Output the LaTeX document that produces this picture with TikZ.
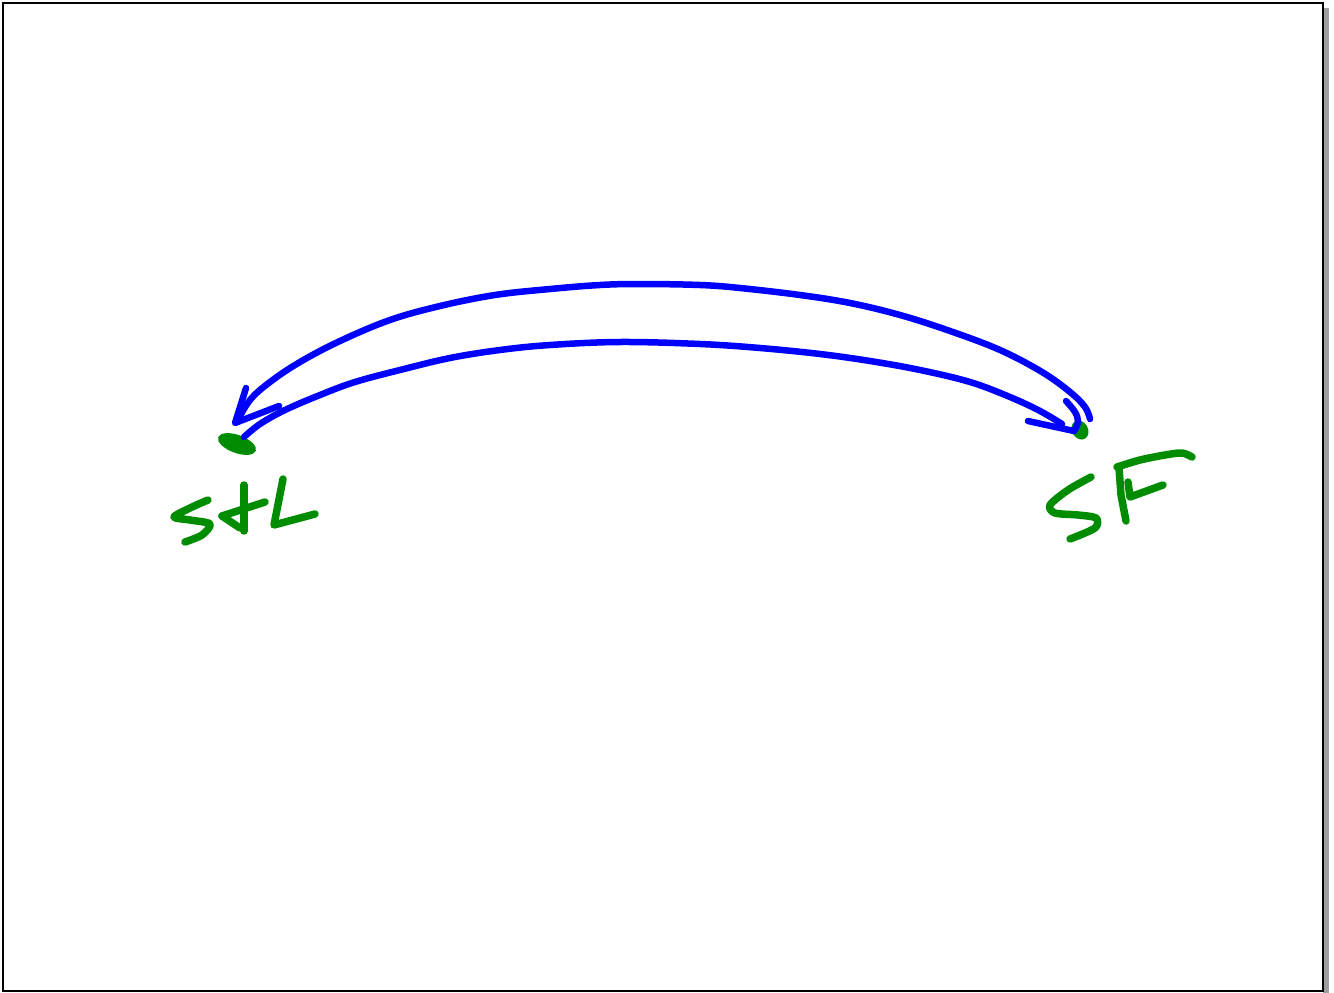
\documentclass[tikz,border=0pt]{standalone}
\definecolor{inkblue}{RGB}{0,0,255}
\definecolor{inkgreen}{RGB}{0,140,0}
\tikzset{
  bluepen/.style={draw=inkblue,line width=6.5pt,line cap=round,line join=round},
  greenpen/.style={draw=inkgreen,line width=7.5pt,line cap=round,line join=round},
}
\begin{document}
\begin{tikzpicture}[x=1pt,y=-1pt]
\useasboundingbox (0,0) rectangle (1334,993);
% page frame with shadow
\fill[gray!75] (1323,8) rectangle (1329,993);
\draw[black,line width=2.5pt] (3,3) rectangle (1323,991);

% city dots
\coordinate (stl) at (237,444);
\coordinate (sf) at (1080,430);
\fill[inkgreen,rotate around={-20:(stl)}] (stl) ellipse (20 and 9);
\fill[inkgreen,rotate around={30:(sf)}] (sf) ellipse (8 and 10);

% upper arc: SF to STL
\draw[bluepen] plot[smooth,tension=0.6] coordinates {
 (1090,419) (1085,407) (1070,392) (1042,372) (1000,350) (950,331) (900,315)
 (850,303) (800,295) (740,288) (700,285) (640,284) (600,285) (550,289)
 (495,295) (440,306) (390,320) (340,341) (300,362) (270,382) (250,400) (237,422)};
\draw[bluepen] (246,388) -- (235,423) -- (279,406);

% lower arc: STL to SF
\draw[bluepen] plot[smooth,tension=0.6] coordinates {
 (244,437) (260,424) (285,410) (320,395) (355,382) (400,370) (450,358)
 (500,350) (550,345) (620,342) (700,344) (760,348) (820,354) (870,361)
 (920,370) (970,382) (1010,397) (1040,411) (1062,424)};
\draw[bluepen] (1028,421) -- (1074,431);
\draw[bluepen] plot[smooth,tension=0.6] coordinates {(1066,401) (1075,412) (1078,422) (1074,431)};

% label STL
\draw[greenpen] plot[smooth,tension=0.5] coordinates {(208,500) (190,508) (174,517) (190,520) (210,524) (202,535) (185,542)};
\draw[greenpen] (244,485) -- (244,531);
\draw[greenpen] (222,516) -- (265,502);
\draw[greenpen] (222,516) -- (240,528);
\draw[greenpen] (283,479) -- (274,525) -- (315,514);

% label SF
\draw[greenpen] plot[smooth,tension=0.5] coordinates {(1091,477) (1068,490) (1050,505) (1055,513) (1078,515) (1096,518) (1095,528) (1070,539)};
\draw[greenpen] (1119,468) -- (1121,495) -- (1126,521);
\draw[greenpen] plot[smooth,tension=0.5] coordinates {(1117,467) (1140,460) (1165,455) (1182,453) (1192,457)};
\draw[greenpen] (1128,482) -- (1130,497) -- (1163,485);
\end{tikzpicture}
\end{document}
